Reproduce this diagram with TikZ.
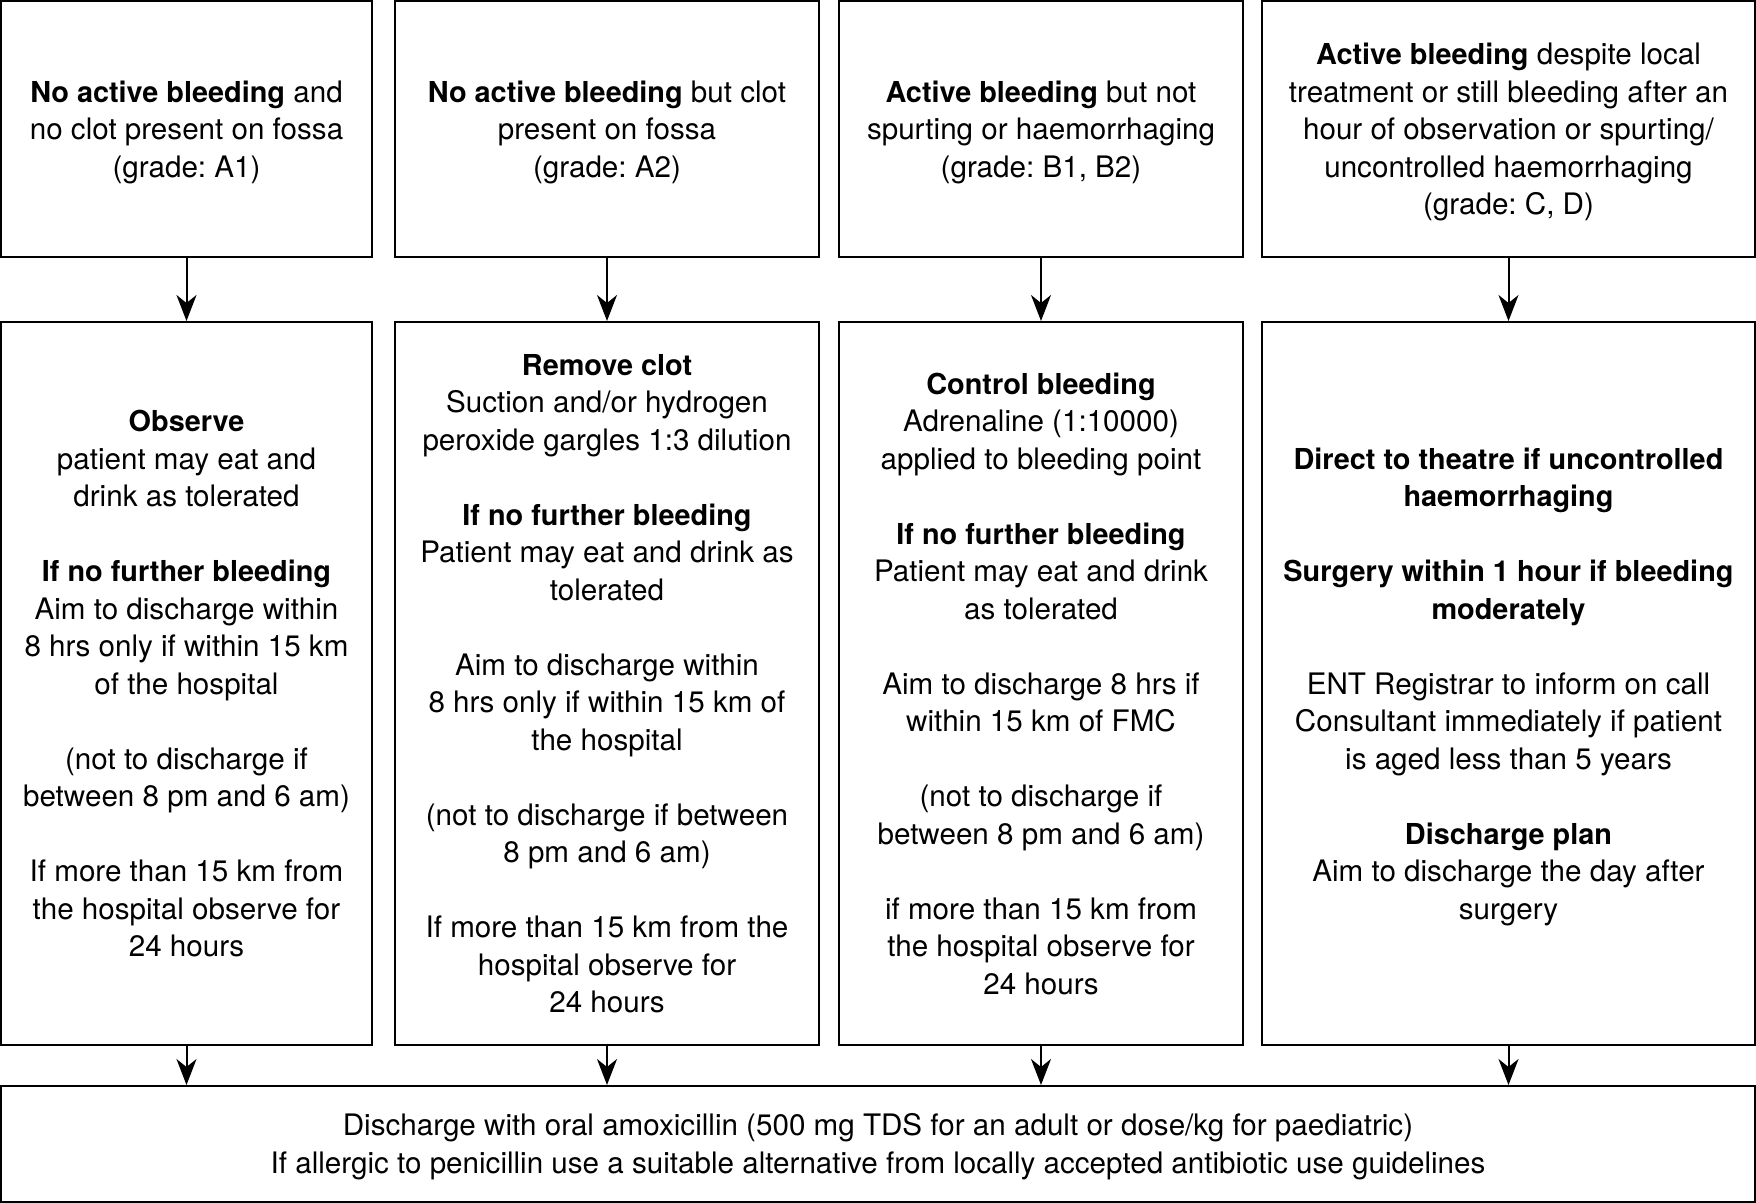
\documentclass[tikz,border=0pt]{standalone}
\usepackage{fontspec}
\setmainfont{TeX Gyre Heros}[BoldFeatures={Scale=0.975}]
\usetikzlibrary{arrows.meta}
\newcommand{\gapline}{\\[18.75pt]}
\newcommand{\lnstrut}{\rule[-4.1pt]{0pt}{18.75pt}}
\begin{document}
\begin{tikzpicture}[x=0.5pt,y=-0.5pt,
  box/.style={draw=black,line width=1pt,rectangle,inner sep=0pt,align=center,
    font={\fontsize{14.8pt}{18.75pt}\selectfont\frenchspacing}},
  topbox/.style={box,minimum height=128pt},
  midbox/.style={box,minimum height=361.5pt},
  arr/.style={line width=1pt,-{Stealth[length=13pt,width=10pt,inset=4pt]}}]
\useasboundingbox (0,0) rectangle (1756,1203);
% top row
\node[topbox,minimum width=185.5pt] (t1) at (186.5,129)
  {\lnstrut\textbf{No active bleeding} and\\ no clot present on fossa\\ (grade: A1)\lnstrut};
\node[topbox,minimum width=212pt] (t2) at (607,129)
  {\lnstrut\textbf{No active bleeding} but clot\\ present on fossa\\ (grade: A2)\lnstrut};
\node[topbox,minimum width=202pt] (t3) at (1041,129)
  {\lnstrut\textbf{Active bleeding} but not\\ spurting or haemorrhaging\\ (grade: B1, B2)\lnstrut};
\node[topbox,minimum width=246.5pt] (t4) at (1508.5,129)
  {\lnstrut\textbf{Active bleeding} despite local\\ treatment or still bleeding after an\\ hour of observation or spurting/\\ uncontrolled haemorrhaging\\ (grade: C, D)\lnstrut};
% middle row
\node[midbox,minimum width=185.5pt] (m1) at (186.5,683.5)
  {\lnstrut\textbf{Observe}\\ patient may eat and\\ drink as tolerated\gapline
   \textbf{If no further bleeding}\\ Aim to discharge within\\ 8 hrs only if within 15 km\\ of the hospital\gapline
   (not to discharge if\\ between 8 pm and 6 am)\gapline
   If more than 15 km from\\ the hospital observe for\\ 24 hours\lnstrut};
\node[midbox,minimum width=212pt] (m2) at (607,683.5)
  {\lnstrut\textbf{Remove clot}\\ Suction and/or hydrogen\\ peroxide gargles 1:3 dilution\gapline
   \textbf{If no further bleeding}\\ Patient may eat and drink as\\ tolerated\gapline
   Aim to discharge within\\ 8 hrs only if within 15 km of\\ the hospital\gapline
   (not to discharge if between\\ 8 pm and 6 am)\gapline
   If more than 15 km from the\\ hospital observe for\\ 24 hours\lnstrut};
\node[midbox,minimum width=202pt] (m3) at (1041,683.5)
  {\lnstrut\textbf{Control bleeding}\\ Adrenaline (1:10000)\\ applied to bleeding point\gapline
   \textbf{If no further bleeding}\\ Patient may eat and drink\\ as tolerated\gapline
   Aim to discharge 8 hrs if\\ within 15 km of FMC\gapline
   (not to discharge if\\ between 8 pm and 6 am)\gapline
   if more than 15 km from\\ the hospital observe for\\ 24 hours\lnstrut};
\node[midbox,minimum width=246.5pt] (m4) at (1508.5,683.5)
  {\lnstrut\textbf{Direct to theatre if uncontrolled}\\ \textbf{haemorrhaging}\gapline
   \textbf{Surgery within 1 hour if bleeding}\\ \textbf{moderately}\gapline
   ENT Registrar to inform on call\\ Consultant immediately if patient\\ is aged less than 5 years\gapline
   \textbf{Discharge plan}\\ Aim to discharge the day after\\ surgery\lnstrut};
% bottom
\node[box,minimum width=877pt,minimum height=58pt] (b) at (878,1144)
  {\lnstrut Discharge with oral amoxicillin (500 mg TDS for an adult or dose/kg for paediatric)\\
   If allergic to penicillin use a suitable alternative from locally accepted antibiotic use guidelines\lnstrut};
% arrows
\foreach \i in {1,2,3,4}{
  \draw[arr] (t\i.south) -- (m\i.north);
  \draw[arr] (m\i.south) -- (m\i.south |- b.north);
}
\end{tikzpicture}
\end{document}
